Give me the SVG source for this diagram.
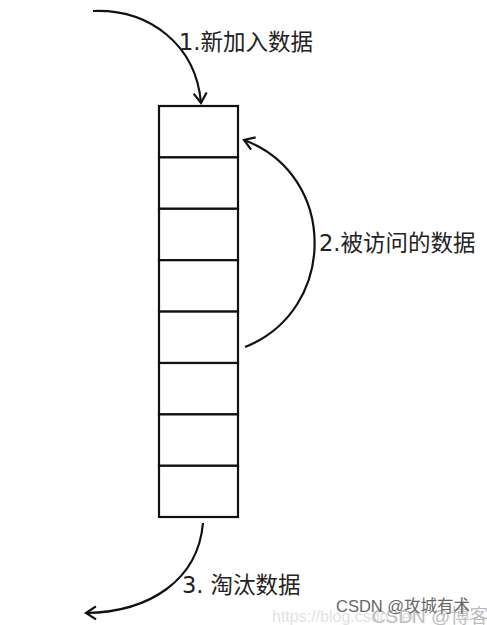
<svg xmlns="http://www.w3.org/2000/svg" width="487" height="625" viewBox="0 0 487 625">
<defs>
<style>
.cell{fill:#fff;stroke:#111;stroke-width:2.2}
.conn{fill:none;stroke:#111;stroke-width:2.2}
.lbl{font-family:"DejaVu Sans","Noto Sans CJK SC",sans-serif;font-size:22.5px;fill:#222}
.wm{font-family:"Liberation Sans","Noto Sans CJK SC",sans-serif}
</style>
<marker id="arr" markerWidth="16" markerHeight="16" refX="13" refY="8" orient="auto" markerUnits="userSpaceOnUse">
<polyline points="3,1.5 13,8 3,14.5" fill="none" stroke="#111" stroke-width="2.2"/>
</marker>
</defs>
<rect width="487" height="625" fill="#fff"/>
<g id="queue">
<rect id="cell1" class="cell" x="159" y="106" width="79" height="51.4"/>
<rect id="cell2" class="cell" x="159" y="157.4" width="79" height="51.4"/>
<rect id="cell3" class="cell" x="159" y="208.8" width="79" height="51.4"/>
<rect id="cell4" class="cell" x="159" y="260.2" width="79" height="51.4"/>
<rect id="cell5" class="cell" x="159" y="311.6" width="79" height="51.4"/>
<rect id="cell6" class="cell" x="159" y="363" width="79" height="51.4"/>
<rect id="cell7" class="cell" x="159" y="414.4" width="79" height="51.4"/>
<rect id="cell8" class="cell" x="159" y="465.8" width="79" height="51.2"/>
</g>
<g id="connectors">
<path class="conn" d="M93,11 C150,9 196,45 201,103" marker-end="url(#arr)"/>
<path class="conn" d="M245,347 C338,310 338,175 244,140" marker-end="url(#arr)"/>
<path class="conn" d="M203,523 C198,580 150,612 86,613" marker-end="url(#arr)"/>
</g>
<g id="labels">
<text class="lbl" x="179" y="50">1.新加入数据</text>
<text class="lbl" x="319" y="251">2.被访问的数据</text>
<text class="lbl" x="182" y="593">3. 淘汰数据</text>
</g>
<g id="watermark">
<text class="wm" x="272" y="622" font-size="16" fill="#e2e2e2">https://blog.csdn.net</text>
<text class="wm" x="372" y="623" font-size="19" fill="#bdbdbd">CSDN @博客</text>
<text class="wm" x="336" y="612" font-size="16.5" fill="#666">CSDN @攻城有术</text>
</g>
</svg>
